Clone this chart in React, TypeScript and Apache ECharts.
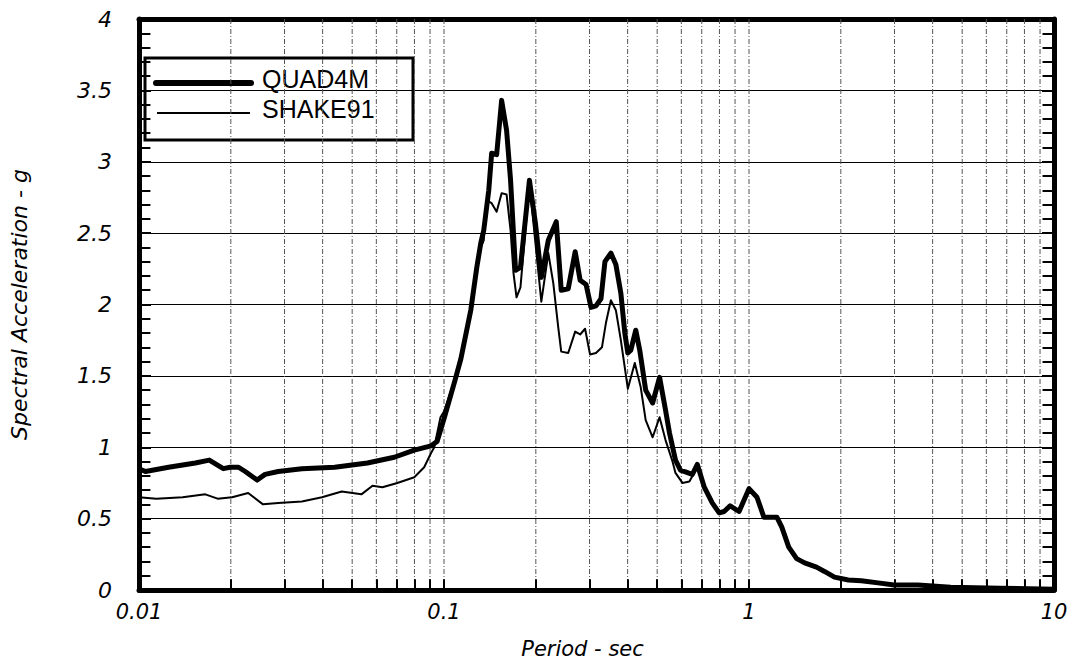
import React, { useEffect, useRef } from "react";
import * as echarts from "echarts";

const quadX = [0.01,0.0105,0.0125,0.0153,0.017,0.0189,0.0199,0.0212,0.0223,0.0244,0.0259,0.0286,0.0342,0.0438,0.0561,0.0687,0.0799,0.0907,0.0949,0.1,0.1087,0.1136,0.1224,0.1281,0.132,0.135,0.1402,0.1433,0.1488,0.1545,0.1604,0.1653,0.1716,0.1781,0.1906,0.1994,0.2085,0.2198,0.2334,0.2423,0.2554,0.2692,0.2795,0.2923,0.3034,0.315,0.3271,0.337,0.3525,0.366,0.38,0.3916,0.4006,0.4097,0.4254,0.4383,0.4584,0.4831,0.5091,0.5325,0.5487,0.5741,0.596,0.6521,0.677,0.7135,0.7577,0.7985,0.829,0.8671,0.9278,1.0,1.062,1.119,1.234,1.281,1.35,1.433,1.522,1.665,1.768,1.906,2.117,2.334,2.651,2.989,3.579,4.584,6.67,10];
const quadY = [0.85,0.83,0.86,0.89,0.91,0.85,0.86,0.86,0.83,0.77,0.81,0.83,0.85,0.86,0.89,0.93,0.98,1.01,1.04,1.2,1.47,1.62,1.96,2.26,2.43,2.52,2.8,3.06,3.05,3.43,3.22,2.87,2.24,2.26,2.87,2.57,2.19,2.45,2.58,2.1,2.11,2.37,2.17,2.14,1.98,1.99,2.04,2.3,2.36,2.28,2.08,1.8,1.66,1.68,1.82,1.68,1.4,1.31,1.49,1.26,1.1,0.91,0.84,0.81,0.88,0.72,0.61,0.54,0.55,0.59,0.55,0.71,0.65,0.51,0.51,0.44,0.3,0.22,0.19,0.16,0.13,0.09,0.07,0.065,0.05,0.035,0.035,0.02,0.012,0.005];

const shakeX = [0.01,0.0114,0.0139,0.0165,0.0181,0.0202,0.0228,0.0255,0.0286,0.0342,0.0398,0.0462,0.0536,0.0583,0.0628,0.0703,0.0799,0.0861,0.0907,0.0929,0.0974,0.1,0.1087,0.1136,0.1224,0.1281,0.132,0.135,0.1381,0.1433,0.1488,0.1545,0.1604,0.1653,0.169,0.1729,0.1781,0.1906,0.2085,0.2198,0.2282,0.2369,0.2423,0.2554,0.2692,0.2795,0.2901,0.3012,0.315,0.3295,0.3395,0.3525,0.366,0.38,0.4006,0.4222,0.4416,0.4584,0.4831,0.5091,0.5325,0.5613,0.5741,0.605,0.6376,0.677,0.7135,0.7577,0.7985,0.829,0.8671,0.9278,1.0,1.062,1.119,1.234,1.281,1.35,1.433,1.522,1.665,1.768,1.906,2.117,2.334,2.651,2.989,3.579,4.584,6.67,10];
const shakeY = [0.65,0.64,0.65,0.67,0.64,0.65,0.68,0.6,0.61,0.62,0.65,0.69,0.67,0.73,0.72,0.75,0.79,0.86,0.96,1.0,1.21,1.25,1.48,1.62,1.96,2.26,2.4,2.45,2.73,2.71,2.65,2.78,2.77,2.52,2.22,2.05,2.12,2.85,2.02,2.36,2.15,1.84,1.67,1.66,1.81,1.79,1.83,1.65,1.66,1.7,1.87,2.03,1.96,1.75,1.41,1.59,1.42,1.19,1.07,1.21,1.05,0.9,0.82,0.75,0.76,0.86,0.72,0.61,0.54,0.55,0.59,0.55,0.71,0.65,0.51,0.51,0.44,0.3,0.22,0.19,0.16,0.13,0.09,0.07,0.065,0.05,0.035,0.035,0.02,0.012,0.005];

// vertical grid lines (dashed) and bottom ticks of the log axis
const gridX = [0.02,0.03,0.04,0.05,0.06,0.07,0.08,0.09,0.1,0.2,0.3,0.4,0.5,0.6,0.7,0.8,0.9,1,2,3,4,5,6,7,8,9];
// ticks on the left and right edges of the plot
const tickY = [0.1,0.2,0.3,0.4,0.5,0.6,0.7,0.8,0.9,1,1.1,1.2,1.3,1.4,1.5,1.6,1.7,1.8,1.9,2,2.1,2.2,2.3,2.4,2.5,2.6,2.7,2.8,2.9,3,3.1,3.2,3.3,3.4,3.5,3.6,3.7,3.8,3.9];

const X_MIN = 0.01, X_MAX = 10;
const X_TICK_L = 0.0109, X_TICK_R = 9.17, Y_TICK_B = 0.075;
const Y_MIN = 0, Y_MAX = 4, Y_STEP = 0.5;

const seriesNames = ["QUAD4M", "SHAKE91"];

const FONT = "DejaVu Sans";

export default function App() {
  const ref = useRef<HTMLDivElement>(null);
  useEffect(() => {
    document.body.style.margin = "0";
    const chart = echarts.init(ref.current!, null, { renderer: "svg" });
    const quad = quadX.map((x, i) => [x, quadY[i]]);
    const shake = shakeX.map((x, i) => [x, shakeY[i]]);
    const tickLines: any[] = [];
    tickY.forEach((t) => {
      tickLines.push([{ coord: [X_MIN, t] }, { coord: [X_TICK_L, t] }]);
      tickLines.push([{ coord: [X_TICK_R, t] }, { coord: [X_MAX, t] }]);
    });
    gridX.forEach((v) => {
      tickLines.push([{ coord: [v, Y_MIN] }, { coord: [v, Y_TICK_B] }]);
    });
    chart.setOption({
      animation: false,
      grid: { left: 133, right: 24, top: 19, bottom: 74 },
      xAxis: [
        {
          type: "log",
          logBase: 10,
          min: X_MIN,
          max: X_MAX,
          position: "bottom",
          axisLine: { show: true, onZero: false, lineStyle: { color: "#000", width: 5 } },
          axisTick: { show: false },
          splitLine: { show: false },
          axisLabel: { fontFamily: FONT, fontStyle: "italic", fontSize: 21, color: "#000", margin: 11 },
          name: "Period - sec",
          nameLocation: "middle",
          nameGap: 48,
          nameTextStyle: { fontFamily: FONT, fontStyle: "italic", fontSize: 21, color: "#000", padding: [0, 28, 0, 0] },
        },
        {
          type: "log",
          logBase: 10,
          min: X_MIN,
          max: X_MAX,
          position: "top",
          axisLine: { show: true, onZero: false, lineStyle: { color: "#000", width: 5 } },
          axisTick: { show: false },
          splitLine: { show: false },
          axisLabel: { show: false },
        },
      ],
      yAxis: [
        {
          type: "value",
          min: Y_MIN,
          max: Y_MAX,
          interval: Y_STEP,
          position: "left",
          axisLine: { show: true, onZero: false, lineStyle: { color: "#000", width: 5 } },
          axisTick: { show: true, inside: true, length: 12, lineStyle: { color: "#000", width: 2 } },
          minorTick: { show: true, splitNumber: 5, length: 11, lineStyle: { color: "#000", width: 2 } },
          splitLine: { show: true, lineStyle: { color: "#000", width: 1 } },
          axisLabel: { fontFamily: FONT, fontStyle: "italic", fontSize: 22, color: "#000", margin: 27 },
          name: "Spectral Acceleration - g",
          nameLocation: "middle",
          nameGap: 109,
          nameTextStyle: { fontFamily: FONT, fontStyle: "italic", fontSize: 22, color: "#000" },
        },
        {
          type: "value",
          min: Y_MIN,
          max: Y_MAX,
          interval: Y_STEP,
          position: "right",
          axisLine: { show: true, onZero: false, lineStyle: { color: "#000", width: 5 } },
          axisTick: { show: true, inside: true, length: 12, lineStyle: { color: "#000", width: 2 } },
          minorTick: { show: true, splitNumber: 5, length: 11, lineStyle: { color: "#000", width: 2 } },
          splitLine: { show: false },
          axisLabel: { show: false },
        },
      ],
      series: [
        {
          type: "custom",
          name: "xgrid",
          silent: true,
          z: 1,
          xAxisIndex: 0,
          yAxisIndex: 0,
          data: gridX.map((v) => [v, Y_MIN]),
          renderItem: (params: any, api: any) => {
            const v = api.value(0);
            const top = api.coord([v, Y_MAX]);
            const bot = api.coord([v, Y_MIN]);
            return {
              type: "line",
              shape: { x1: top[0], y1: top[1], x2: bot[0], y2: bot[1] },
              style: { stroke: "#555", lineWidth: 1, lineDash: [5, 2, 1, 2] },
            };
          },
        },
        {
          type: "line",
          name: "ticks",
          xAxisIndex: 0,
          yAxisIndex: 0,
          data: [[X_MIN, Y_MIN]],
          symbol: "none",
          silent: true,
          z: 5,
          lineStyle: { width: 0 },
          markLine: {
            silent: true,
            symbol: ["none", "none"],
            label: { show: false },
            emphasis: { disabled: true },
            lineStyle: { color: "#000", width: 2, type: "solid" },
            data: tickLines,
          },
        },
        {
          type: "line",
          name: seriesNames[1],
          xAxisIndex: 0,
          yAxisIndex: 0,
          data: shake,
          symbol: "none",
          z: 3,
          lineStyle: { color: "#000", width: 2, join: "round" },
        },
        {
          type: "line",
          name: seriesNames[0],
          xAxisIndex: 0,
          yAxisIndex: 0,
          data: quad,
          symbol: "none",
          z: 4,
          lineStyle: { color: "#000", width: 5, join: "round" },
        },
      ],
      graphic: [
        {
          type: "group",
          z: 100,
          children: [
            { type: "rect", shape: { x: 145, y: 58, width: 268, height: 82 }, style: { fill: "#fff", stroke: "#000", lineWidth: 3 } },
            { type: "line", shape: { x1: 156, y1: 83, x2: 251, y2: 83 }, style: { stroke: "#000", lineWidth: 6, lineCap: "round" } },
            { type: "line", shape: { x1: 157, y1: 113, x2: 250, y2: 113 }, style: { stroke: "#000", lineWidth: 2 } },
            { type: "text", x: 262, y: 79, style: { text: seriesNames[0], font: "25px 'Liberation Sans'", fill: "#000", verticalAlign: "middle" } },
            { type: "text", x: 262, y: 109, style: { text: seriesNames[1], font: "25px 'Liberation Sans'", fill: "#000", verticalAlign: "middle" } },
          ],
        },
      ],
    });
    return () => chart.dispose();
  }, []);
  return <div ref={ref} style={{ width: 1078, height: 664 }} />;
}
